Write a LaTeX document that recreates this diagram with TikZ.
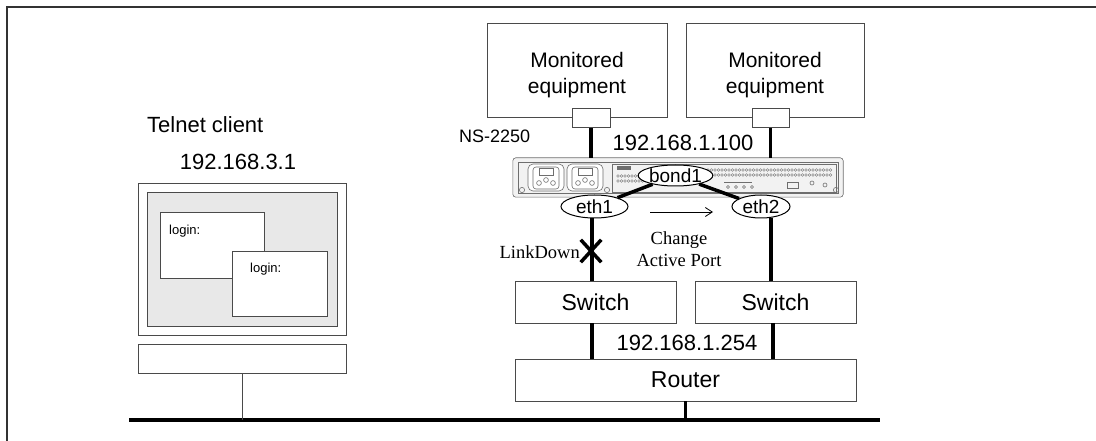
\documentclass[tikz,border=0pt]{standalone}
\usepackage{fontspec}
\setmainfont{Liberation Sans}
\newfontfamily\serifface{Liberation Serif}
\usetikzlibrary{shapes.geometric,shapes.misc,arrows.meta}

\definecolor{boxline}{HTML}{4A4A4A}
\definecolor{frameline}{HTML}{333333}
\definecolor{screenfill}{HTML}{E8E8E8}
\definecolor{devfill}{HTML}{F2F2F2}
\definecolor{devline}{HTML}{6E6E6E}

\begin{document}
\begin{tikzpicture}[x=1pt,y=-1pt,
  box/.style={draw=boxline, line width=1pt, fill=white, inner sep=0pt, outer sep=0pt},
  link/.style={line width=3.5pt, black},
  wire/.style={draw=boxline, line width=1pt},
  bigtxt/.style={inner sep=0pt, font=\fontsize{22}{26}\selectfont, align=center},
  midtxt/.style={inner sep=0pt, font=\fontsize{18}{22}\selectfont},
  smalltxt/.style={inner sep=0pt, font=\fontsize{13}{15}\selectfont},
  sertxt/.style={inner sep=0pt, font=\serifface\fontsize{18.5}{22}\selectfont, align=center},
  portoval/.style={ellipse, draw=black, line width=1pt, fill=white, inner sep=0pt,
    font=\fontsize{19}{19}\selectfont},
  dev/.style={draw=devline, line width=0.6pt}
]
\useasboundingbox (0,0) rectangle (1096,441);

% outer frame (open to the right and bottom)
\draw[frameline, line width=1.6pt] (7,441) -- (7,7) -- (1096,7);

% ---------- monitored equipment ----------
\node[box, minimum width=180pt, minimum height=94pt] (m1) at (577,71) {};
\node[box, minimum width=178pt, minimum height=94pt] (m2) at (775,71) {};
\node[bigtxt, font=\fontsize{21}{26}\selectfont] (m1t) at (577,75) {Monitored\\equipment};
\node[bigtxt, font=\fontsize{21}{26}\selectfont] (m2t) at (775,75) {Monitored\\equipment};
\node[box, minimum width=38pt, minimum height=19pt] (p1) at (591,118.5) {};
\node[box, minimum width=37pt, minimum height=19pt] (p2) at (770.5,118.5) {};

% ---------- NS-2250 console server ----------
\node[inner sep=0pt, minimum width=330pt, minimum height=39pt] (ns) at (678,177.5) {};
\draw[dev, rounded corners=3pt, fill=devfill] (ns.north west) rectangle (ns.south east);
\draw[dev] (518,162) rectangle (838,193);
% power inlets
\foreach \sx in {546,585} {
  \draw[dev, rounded corners=5pt, fill=white] (\sx-18,164) rectangle (\sx+18,191);
  \draw[dev, rounded corners=3pt] (\sx-13,167) rectangle (\sx+13,189);
  \draw[dev] (\sx-7,168) rectangle (\sx+7,175);
  \foreach \dx/\dy in {-7/183,0/180,7/183} \draw[dev] (\sx+\dx,\dy) circle (2.4);
}
\draw[dev] (522,190) circle (2.6);
\draw[dev] (607,190) circle (2.6);
% front panel
\draw[dev] (612,164) rectangle (836,192);
\fill[devline] (617,166) rectangle (631,170);
\foreach \px in {618,621.5,...,650} {
  \draw[dev, line width=0.4pt] (\px,176) circle (1.3);
  \draw[dev, line width=0.4pt] (\px,181) circle (1.3);
}
\foreach \px in {708,711.5,...,832} {
  \draw[dev, line width=0.4pt] (\px,170) circle (1.3);
  \draw[dev, line width=0.4pt] (\px,175) circle (1.3);
}
\draw[dev] (724,182) -- (752,182);
\foreach \px in {728,736,744,752} \draw[dev] (\px,187) circle (1.5);
\draw[dev] (787,182) rectangle (798,188);
\draw[dev] (812,183) circle (2);
\draw[dev] (825,185) circle (2);
\draw[dev] (836,190) circle (2.6);

\node[midtxt, anchor=west] (nsname) at (459,136) {NS-2250};
\node[bigtxt] (ipmon) at (683,143) {192.168.1.100};

\draw[link] (p1.south) -- (p1.south |- ns.north);
\draw[link] (p2.south) -- (p2.south |- ns.north);

% bonding interfaces
\node[portoval, minimum width=57pt, minimum height=21pt] (bond1) at (675.5,175.5) {bond1};
\node[portoval, minimum width=67pt, minimum height=23pt] (eth1) at (594.5,206.5) {eth1};
\node[portoval, minimum width=58pt, minimum height=23pt] (eth2) at (761,206.5) {eth2};
\draw[link] (bond1) -- (eth1);
\draw[link] (bond1) -- (eth2);

% ---------- switches and router ----------
\node[box, minimum width=161pt, minimum height=42pt, font=\fontsize{23}{23}\selectfont] (sw1) at (595.5,302) {Switch};
\node[box, minimum width=161pt, minimum height=42pt, font=\fontsize{23}{23}\selectfont] (sw2) at (775.5,302) {Switch};
\node[box, minimum width=341pt, minimum height=42pt, font=\fontsize{23}{23}\selectfont] (router) at (685.5,380) {Router};

\draw[link] (eth1.south -| 592,0) -- (592,0 |- sw1.north);
\draw[link] (eth2.south -| 771,0) -- (771,0 |- sw2.north);
\draw[link] (592,0 |- sw1.south) -- (592,0 |- router.north);
\draw[link] (773,0 |- sw2.south) -- (773,0 |- router.north);
\node[bigtxt] (iprt) at (687,343) {192.168.1.254};

% failover annotation: broken link on eth1
\node[cross out, draw=black, line width=3.5pt, minimum width=17pt, minimum height=19pt, inner sep=0pt] (down) at (591,251) {};
\node[sertxt, anchor=east] (downtxt) at (580,252) {LinkDown};
\coordinate (arrs) at (650,212);
\coordinate (arre) at (713,212);
\draw[line width=0.8pt, -{Straight Barb[length=7pt, width=9pt]}] (arrs) -- (arre);
\node[sertxt] (chg) at (679,249) {Change\\Active Port};

% ---------- telnet client ----------
\node[bigtxt, anchor=west] (tcname) at (147,125) {Telnet client};
\node[bigtxt] (tcip) at (238,162) {192.168.3.1};
\node[box, minimum width=208pt, minimum height=151pt] (pc) at (242,259.5) {};
\node[box, fill=screenfill, minimum width=190pt, minimum height=133pt] (screen) at (242,259.5) {};
\node[box, minimum width=104pt, minimum height=65pt] (win1) at (212,245.5) {};
\node[smalltxt, anchor=north west] (l1) at (169,225) {login:};
\node[box, minimum width=95pt, minimum height=65pt] (win2) at (279.5,283.5) {};
\node[smalltxt, anchor=north west] (l2) at (250,263) {login:};
\node[box, minimum width=208pt, minimum height=29pt] (kb) at (242,358.5) {};

% ---------- LAN ----------
\coordinate (busL) at (129,420);
\coordinate (busR) at (880,420);
\draw[line width=4pt, black] (busL) -- (busR);
\draw[wire] (kb.south) -- (kb.south |- busL);
\draw[line width=3pt, black] (router.south) -- (router.south |- busL);
\end{tikzpicture}
\end{document}
